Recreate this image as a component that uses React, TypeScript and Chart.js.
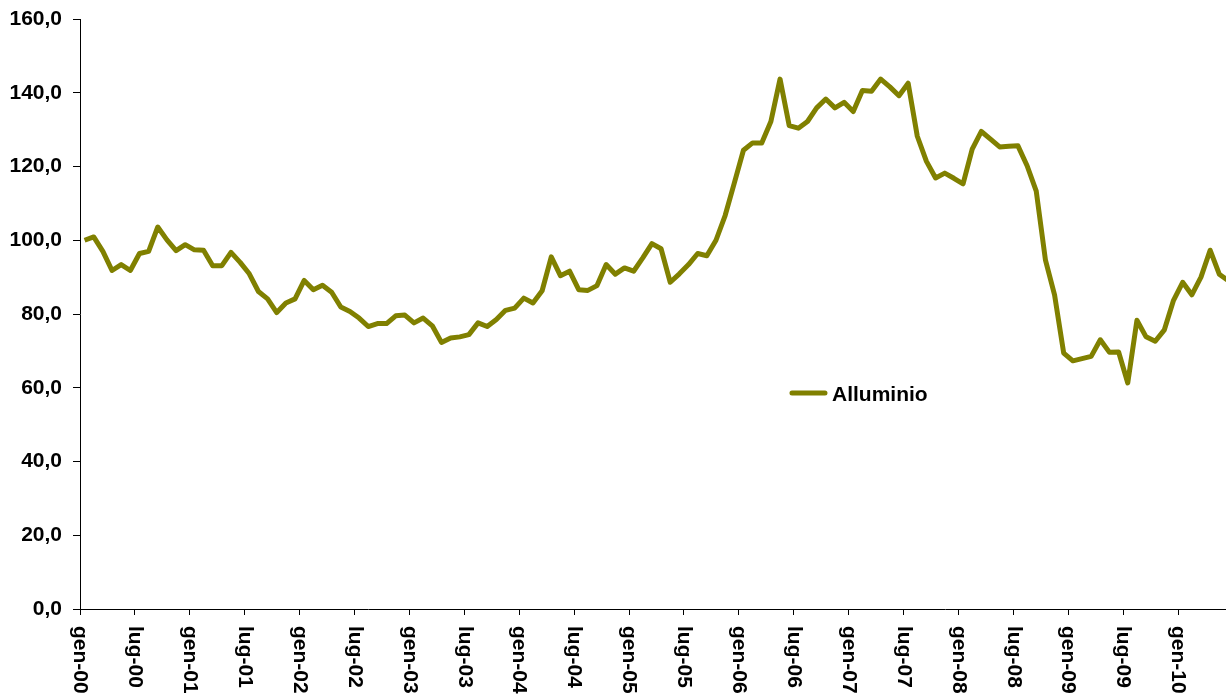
import React, { useEffect, useRef } from "react";
import { Chart, registerables } from "chart.js";

Chart.register(...registerables);

// Italian month abbreviations and years of the monthly category axis
const MONTHS = ["gen", "feb", "mar", "apr", "mag", "giu", "lug", "ago", "set", "ott", "nov", "dic"];
const YEARS = ["00", "01", "02", "03", "04", "05", "06", "07", "08", "09", "10"];
const N_MONTHS = 126; // gen-00 .. giu-10
const categories: string[] = YEARS.flatMap((y) => MONTHS.map((m) => `${m}-${y}`)).slice(0, N_MONTHS);

const SERIES_LABEL = "Alluminio";

// Values (index, base 100 = gen-00)
const alluminio2000 = [100.0, 100.9, 97.0, 91.8, 93.4, 91.8, 96.4, 97.0, 103.6, 100.1, 97.2, 98.8];
const alluminio2001 = [97.4, 97.3, 93.1, 93.1, 96.7, 94.0, 90.9, 86.1, 84.1, 80.4, 83.0, 84.1];
const alluminio2002 = [89.1, 86.6, 87.8, 85.9, 81.9, 80.7, 78.9, 76.6, 77.4, 77.4, 79.5, 79.7];
const alluminio2003 = [77.6, 78.9, 76.8, 72.3, 73.5, 73.8, 74.4, 77.6, 76.6, 78.5, 81.0, 81.6];
const alluminio2004 = [84.3, 83.0, 86.3, 95.5, 90.4, 91.6, 86.6, 86.4, 87.7, 93.4, 90.8, 92.5];
const alluminio2005 = [91.6, 95.2, 99.1, 97.7, 88.6, 90.9, 93.4, 96.4, 95.8, 100.0, 106.7, 115.5];
const alluminio2006 = [124.4, 126.4, 126.4, 132.2, 143.7, 131.1, 130.4, 132.2, 135.9, 138.3, 135.9, 137.4];
const alluminio2007 = [134.9, 140.6, 140.4, 143.7, 141.6, 139.2, 142.6, 128.2, 121.4, 116.9, 118.2, 116.8];
const alluminio2008 = [115.3, 124.7, 129.5, 127.4, 125.3, 125.5, 125.6, 120.2, 113.3, 94.7, 85.2, 69.4];
const alluminio2009 = [67.3, 67.9, 68.5, 73.0, 69.6, 69.7, 61.3, 78.3, 73.8, 72.6, 75.7, 83.7];
const alluminio2010 = [88.6, 85.2, 90.0, 97.3, 90.8, 89.0];

const alluminio = [
  ...alluminio2000, ...alluminio2001, ...alluminio2002, ...alluminio2003,
  ...alluminio2004, ...alluminio2005, ...alluminio2006, ...alluminio2007,
  ...alluminio2008, ...alluminio2009, ...alluminio2010,
];

const Y_MIN = 0;
const Y_MAX = 160;
const Y_STEP = 20;
const LABEL_EVERY = 6;

const LINE_COLOR = "#808000";
const FONT_FAMILY = '"Liberation Sans", Arial, Helvetica, sans-serif';
const FONT_SIZE = 21;

// Draws the x tick labels (reading top-to-bottom) at the category boundaries
const xLabelsPlugin = {
  id: "xLabelsDown",
  afterDraw(chart: any) {
    const xs = chart.scales.x;
    const ctx = chart.ctx;
    const labels: string[] = chart.data.labels;
    ctx.save();
    ctx.font = `bold ${FONT_SIZE}px ${FONT_FAMILY}`;
    ctx.fillStyle = "#000";
    ctx.textAlign = "left";
    ctx.textBaseline = "middle";
    for (let i = 0; i < labels.length; i += LABEL_EVERY) {
      const px = xs.getPixelForValue(i - 0.5);
      ctx.save();
      ctx.translate(px, xs.top + 17);
      ctx.rotate(Math.PI / 2);
      ctx.fillText(labels[i], 0, 0);
      ctx.restore();
    }
    ctx.restore();
  },
};

// Legend placed inside the plot area
const innerLegendPlugin = {
  id: "innerLegend",
  afterDraw(chart: any, _args: any, opts: any) {
    const { chartArea, ctx } = chart;
    const ds = chart.data.datasets[0];
    const x0 = chartArea.left + opts.fx * (chartArea.right - chartArea.left);
    const y0 = chartArea.top + opts.fy * (chartArea.bottom - chartArea.top);
    ctx.save();
    ctx.strokeStyle = ds.borderColor;
    ctx.lineWidth = 5;
    ctx.lineCap = "round";
    ctx.beginPath();
    ctx.moveTo(x0, y0);
    ctx.lineTo(x0 + 33, y0);
    ctx.stroke();
    ctx.font = `bold ${FONT_SIZE}px ${FONT_FAMILY}`;
    ctx.fillStyle = "#000";
    ctx.textAlign = "left";
    ctx.textBaseline = "middle";
    ctx.fillText(ds.label, x0 + 40, y0 + 2);
    ctx.restore();
  },
};

export default function App() {
  const canvasRef = useRef<HTMLCanvasElement | null>(null);

  useEffect(() => {
    if (!canvasRef.current) return;
    const chart = new Chart(canvasRef.current, {
      type: "line",
      data: {
        labels: categories,
        datasets: [
          {
            label: SERIES_LABEL,
            data: alluminio,
            borderColor: LINE_COLOR,
            backgroundColor: LINE_COLOR,
            borderWidth: 5,
            borderJoinStyle: "round",
            pointRadius: 0,
            pointHoverRadius: 0,
            tension: 0,
            fill: false,
          },
        ],
      },
      options: {
        animation: false,
        responsive: true,
        maintainAspectRatio: false,
        layout: { padding: { top: 19, right: 0, left: 0, bottom: 0 } },
        plugins: {
          legend: { display: false },
          tooltip: { enabled: false },
          innerLegend: { fx: 0.6175, fy: 0.634 },
        } as any,
        scales: {
          x: {
            type: "category",
            offset: true,
            grid: {
              display: true,
              offset: true,
              drawOnChartArea: false,
              drawTicks: true,
              tickLength: 6,
              tickColor: (c: any) => (typeof c.index === "number" && c.index % LABEL_EVERY === 0 ? "#000" : "rgba(0,0,0,0)"),
              color: "rgba(0,0,0,0)",
            },
            border: { display: true, color: "#000", width: 1 },
            ticks: { display: false, autoSkip: false },
            afterFit: (scale: any) => {
              scale.height = 91;
              scale.paddingLeft = 0;
              scale.paddingRight = 0;
            },
          },
          y: {
            min: Y_MIN,
            max: Y_MAX,
            grid: {
              display: true,
              drawOnChartArea: false,
              drawTicks: true,
              tickLength: 7,
              tickColor: "#000",
            },
            border: { display: true, color: "#000", width: 1 },
            ticks: {
              stepSize: Y_STEP,
              color: "#000",
              padding: 11,
              font: { family: FONT_FAMILY, size: FONT_SIZE, weight: "bold" },
              callback: (v: any) => Number(v).toFixed(1).replace(".", ","),
            },
            afterFit: (scale: any) => {
              scale.width = 80;
              scale.paddingTop = 0;
              scale.paddingBottom = 0;
            },
          },
        },
      } as any,
      plugins: [xLabelsPlugin, innerLegendPlugin],
    });
    return () => chart.destroy();
  }, []);

  return (
    <div
      style={{
        position: "fixed",
        left: 0,
        top: 0,
        width: 1226,
        height: 700,
        overflow: "hidden",
        background: "#fff",
      }}
    >
      <div style={{ position: "relative", width: 1233, height: 700 }}>
        <canvas ref={canvasRef} />
      </div>
    </div>
  );
}
